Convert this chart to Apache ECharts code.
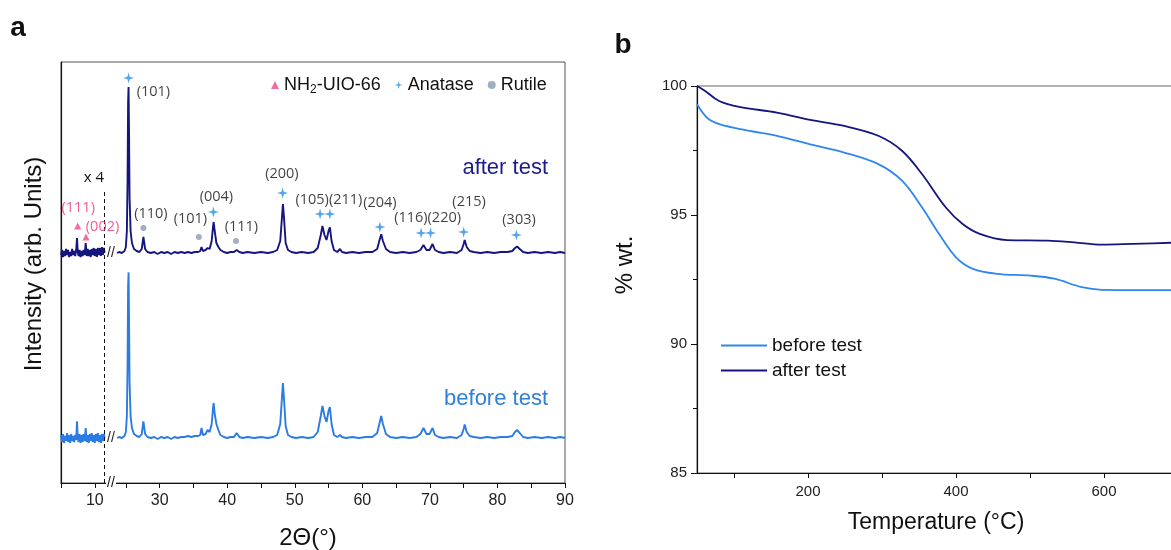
<!DOCTYPE html>
<html><head><meta charset="utf-8">
<script src="https://cdn.jsdelivr.net/npm/echarts@6/dist/echarts.min.js"></script>
<style>html,body{margin:0;padding:0;background:#fff}#c{width:1171px;height:550px}</style>
</head><body><div id="c"></div>
<script>
// ================= DATA =================
// Panel a : XRD, 2θ (deg) vs intensity above own baseline (arb.)
const BREAK_LO = 11.5, BREAK_HI = 23.7, BREAK_SHIFT = 10.4;
const xrdTickValues = [5, 10, 25, 30, 35, 40, 45, 50, 55, 60, 65, 70, 75, 80, 85, 90];
const xrdLabelValues = [10, 30, 40, 50, 60, 70, 80, 90];
const AFTER_OFFSET = 230, BEFORE_OFFSET = 45;

const afterLow = [[5.0,-2],[5.15,3],[5.3,-4],[5.45,2],[5.6,-3],[5.75,4],[5.9,-2],[6.05,3],[6.2,-4],[6.35,1],[6.5,-3],[6.65,4],[6.8,-2],[6.95,2],[7.1,-3],[7.25,3],[7.37,15],[7.48,1],[7.6,-3],[7.75,3],[7.9,-4],[8.05,2],[8.2,-3],[8.35,3],[8.5,-2],[8.66,10],[8.8,-3],[8.95,4],[9.1,-3],[9.25,3],[9.4,-4],[9.55,4],[9.7,-2],[9.85,5],[10.0,-3],[10.15,4],[10.3,-4],[10.45,5],[10.6,-2],[10.75,5],[10.9,-3],[11.05,6],[11.2,-2],[11.35,5],[11.45,0]];
const afterHigh = [[23.7,0],[24.0,1],[24.4,0],[24.8,2],[25.0,6],[25.15,22],[25.25,70],[25.33,150],[25.4,166],[25.47,120],[25.55,55],[25.7,22],[25.9,10],[26.2,4],[26.6,2],[27.0,1],[27.35,4],[27.6,16],[27.85,4],[28.2,1],[28.7,0],[29.2,1],[29.7,-1],[30.2,1],[30.7,0],[31.2,1],[31.7,-1],[32.2,1],[32.7,0],[33.2,1],[33.7,0],[34.2,1],[34.7,0],[35.2,1],[35.7,1],[36.0,2],[36.2,6],[36.4,2],[36.8,3],[37.1,5],[37.4,4],[37.7,12],[37.9,26],[38.0,31],[38.15,22],[38.4,10],[38.7,6],[39.0,3],[39.5,1],[40.0,0],[40.5,1],[41.0,1],[41.4,3],[41.8,1],[42.3,0],[43,1],[44,0],[45,1],[46,0],[46.8,1],[47.4,3],[47.85,12],[48.1,35],[48.25,49],[48.4,36],[48.65,10],[49.0,3],[49.5,1],[50.2,0],[51,1],[52,0],[52.8,1],[53.4,5],[53.85,18],[54.1,27],[54.4,18],[54.7,13],[55.0,22],[55.2,25.7],[55.45,12],[55.8,3],[56.3,1],[56.7,4],[57.0,1],[57.6,0],[58.5,1],[59.5,0],[60.5,1],[61.5,1],[62.2,4],[62.55,13],[62.8,18.7],[63.05,12],[63.5,4],[64.1,1],[65,0],[66,1],[67,0],[68,1],[68.6,3],[69.05,8],[69.5,3],[69.95,3],[70.4,9],[70.75,3],[71.3,1],[72,0],[73,1],[74,0],[74.7,3],[75.0,9],[75.15,13],[75.45,6],[75.9,2],[76.5,1],[77.5,0],[78.5,1],[79.5,0],[80.5,1],[81.5,1],[82.2,2],[82.6,5],[82.9,6.5],[83.3,4],[83.8,1],[84.5,0],[85.5,1],[86.5,0],[87.5,1],[88.5,0],[89.3,1],[90,0]];

const beforeLow = [[5.0,3],[5.15,-4],[5.3,4],[5.45,-5],[5.6,2],[5.75,-3],[5.9,5],[6.05,-4],[6.2,3],[6.35,-5],[6.5,4],[6.65,-3],[6.8,2],[6.95,-4],[7.1,3],[7.25,-2],[7.37,16.6],[7.48,0],[7.6,-4],[7.75,4],[7.9,-5],[8.05,3],[8.2,-4],[8.35,4],[8.5,-3],[8.66,10],[8.8,-4],[8.95,3],[9.1,-5],[9.25,4],[9.4,-3],[9.55,5],[9.7,-4],[9.85,3],[10.0,-5],[10.15,4],[10.3,-3],[10.45,5],[10.6,-4],[10.75,3],[10.9,-5],[11.05,4],[11.2,-3],[11.35,4],[11.45,0]];
const beforeHigh = [[23.7,0],[24.0,1],[24.4,0],[24.8,2],[25.0,6],[25.15,22],[25.25,70],[25.33,150],[25.4,165.6],[25.47,120],[25.55,55],[25.7,22],[25.9,10],[26.2,4],[26.6,2],[27.0,1],[27.35,4],[27.6,16.6],[27.85,4],[28.2,1],[28.7,0],[29.2,1],[29.7,-1],[30.2,1],[30.7,0],[31.2,1],[31.7,-1],[32.2,1],[32.7,0],[33.2,1],[33.7,1],[34.2,2],[34.7,1],[35.2,2],[35.7,2],[36.0,3],[36.2,10],[36.4,3],[36.8,4],[37.1,8],[37.4,6],[37.7,14],[37.9,30],[38.0,35],[38.15,24],[38.4,14],[38.7,8],[39.0,3],[39.5,1],[40.0,0],[40.5,1],[41.0,1],[41.4,5],[41.8,1],[42.3,0],[43,1],[44,0],[45,1],[46,0],[46.8,1],[47.4,3],[47.85,14],[48.1,40],[48.25,55],[48.4,40],[48.65,12],[49.0,3],[49.5,1],[50.2,0],[51,1],[52,0],[52.8,1],[53.4,6],[53.85,22],[54.1,32],[54.4,22],[54.7,16],[55.0,27],[55.2,31],[55.45,14],[55.8,3],[56.3,1],[56.7,3],[57.0,1],[57.6,0],[58.5,1],[59.5,0],[60.5,1],[61.5,1],[62.2,5],[62.55,15],[62.8,22],[63.05,14],[63.5,4],[64.1,1],[65,0],[66,1],[67,0],[68,1],[68.6,4],[69.05,10],[69.5,4],[69.95,4],[70.4,10],[70.75,3],[71.3,1],[72,0],[73,1],[74,0],[74.7,3],[75.0,9],[75.15,13.5],[75.45,6],[75.9,2],[76.5,1],[77.5,0],[78.5,1],[79.5,0],[80.5,1],[81.5,1],[82.2,2],[82.6,6],[82.9,8],[83.3,5],[83.8,1],[84.5,0],[85.5,1],[86.5,0],[87.5,1],[88.5,0],[89.3,1],[90,0]];

// phase markers [2θ, plotted height]
const uioMarks = [[7.47,257],[8.70,246]];
const anataseMarks = [[25.4,405],[37.95,271],[48.2,290],[53.75,269],[55.2,269],[62.6,256],[68.7,250],[70.1,250],[75.0,251],[82.8,248]];
const rutileMarks = [[27.6,255],[35.8,246],[41.3,242]];
// peak index labels [text, 2θ, height]
const hklLabels = [['(101)',29.07,391],['(110)',28.7,269],['(101)',34.55,264],['(004)',38.4,286],['(111)',42.1,256],['(200)',48.1,309],['(105)(211)',55.05,283],['(204)',62.6,280],['(116)(220)',69.66,265],['(215)',75.8,281],['(303)',83.2,263]];
const uioLabels = [['(111)',7.55,275],['(002)',11.15,256]];

// Panel b : TGA, temperature (°C) vs % wt.
const tgaBefore = [[50,99.29],[66,98.71],[89,98.45],[121,98.26],[158,98.07],[203,97.74],[249,97.42],[295,96.97],[327,96.33],[354,95.30],[377,94.27],[400,93.36],[423,92.91],[455,92.72],[501,92.65],[533,92.53],[570,92.20],[597,92.10],[650,92.09],[710,92.09]];
const tgaAfter = [[50,100],[61,99.81],[80,99.42],[107,99.19],[158,98.97],[203,98.69],[249,98.45],[295,98.07],[327,97.49],[354,96.59],[386,95.30],[409,94.65],[432,94.27],[469,94.03],[524,94.01],[560,93.94],[597,93.85],[638,93.88],[710,93.94]];
const tgaTicks = [100, 200, 300, 400, 500, 600, 700];
const tgaLabels = [200, 400, 600, 800];

// ================= CHART =================
const FONT = 'Liberation Sans, Arial, sans-serif';
const C_AFTER = '#15157f', C_BEFORE = '#2b7be4';
const STAR = 'path://M0,-6 L1.3,-1.3 L6,0 L1.3,1.3 L0,6 L-1.3,1.3 L-6,0 L-1.3,-1.3 Z';
const tx = th => th <= 12 ? th : th - BREAK_SHIFT;
const buildTrace = (low, high, off) => low.map(p => [tx(p[0]), p[1] + off])
  .concat([[12.4, '-']])
  .concat(high.map(p => [tx(p[0]), p[1] + off]));
const markData = arr => arr.map(p => [tx(p[0]), p[1]]);
const labelData = arr => arr.map(p => ({ name: p[0], value: [tx(p[1]), p[2]] }));

const chart = echarts.init(document.getElementById('c'));
const option = {
  animation: false,
  textStyle: { fontFamily: FONT },
  grid: [
    { left: 61, top: 62, width: 504, height: 421, show: true, borderColor: '#555', borderWidth: 1, outerBoundsMode: 'none', containLabel: false },
    { left: 697, top: 86, width: 555, height: 387, show: true, borderColor: '#666', borderWidth: 1, outerBoundsMode: 'none', containLabel: false }
  ],
  xAxis: [
    { type: 'value', gridIndex: 0, min: 5, max: tx(90),
      axisLine: { lineStyle: { color: '#111', width: 1.2 } },
      axisTick: { customValues: xrdTickValues.map(tx), length: 5, lineStyle: { color: '#111' } },
      axisLabel: { customValues: xrdLabelValues.map(tx), fontSize: 16, color: '#222', margin: 10,
        formatter: v => String(Math.round(v > 12 ? v + BREAK_SHIFT : v)) },
      splitLine: { show: false } },
    { type: 'value', gridIndex: 1, min: 50, max: 800,
      axisLine: { lineStyle: { color: '#111', width: 1.2 } },
      axisTick: { customValues: tgaTicks, length: 5, inside: false, lineStyle: { color: '#111' } },
      axisLabel: { customValues: tgaLabels, fontSize: 15, color: '#222', margin: 11 },
      splitLine: { show: false } }
  ],
  yAxis: [
    { type: 'value', gridIndex: 0, min: 0, max: 421,
      axisLine: { show: true, lineStyle: { color: '#111', width: 1.2 } },
      axisTick: { show: false }, axisLabel: { show: false }, splitLine: { show: false } },
    { type: 'value', gridIndex: 1, min: 85, max: 100, interval: 5,
      axisLine: { show: true, lineStyle: { color: '#111', width: 1.2 } },
      axisTick: { show: true, length: 6, lineStyle: { color: '#111' } },
      minorTick: { show: true, splitNumber: 2, length: 4, lineStyle: { color: '#111' } },
      axisLabel: { fontSize: 15, color: '#222', margin: 10 },
      splitLine: { show: false } }
  ],
  legend: [
    { data: [{ name: 'NH2-UIO-66', icon: 'triangle' }, { name: 'Anatase', icon: STAR }, { name: 'Rutile', icon: 'circle' }],
      left: 266, top: 71, itemGap: 14, itemWidth: 8, itemHeight: 8, selectedMode: false,
      formatter: n => n === 'NH2-UIO-66' ? '{n|NH}{s|2}{n|-UIO-66}' : '{n|' + n + '}',
      textStyle: { rich: { n: { fontSize: 18, color: '#111', lineHeight: 21, fontFamily: FONT },
                           s: { fontSize: 12, color: '#111', lineHeight: 11, verticalAlign: 'bottom', fontFamily: FONT } } } },
    { data: ['before test', 'after test'], orient: 'vertical', left: 716, top: 331, itemGap: 6,
      icon: 'rect', itemWidth: 46, itemHeight: 2, selectedMode: false,
      textStyle: { fontSize: 19, color: '#111', fontFamily: FONT } }
  ],
  series: [
    { name: 'XRD after', type: 'line', xAxisIndex: 0, yAxisIndex: 0, showSymbol: false, connectNulls: false,
      data: buildTrace(afterLow, afterHigh, AFTER_OFFSET), lineStyle: { color: C_AFTER, width: 1.9 }, z: 3 },
    { name: 'XRD before', type: 'line', xAxisIndex: 0, yAxisIndex: 0, showSymbol: false, connectNulls: false,
      data: buildTrace(beforeLow, beforeHigh, BEFORE_OFFSET), lineStyle: { color: C_BEFORE, width: 1.9 }, z: 3,
      markLine: { silent: true, symbol: 'none', label: { show: false },
        lineStyle: { color: '#111', type: [4, 3], width: 1 },
        data: [[{ coord: [BREAK_LO - 0.03, 0] }, { coord: [BREAK_LO - 0.03, 293] }]] } },
    { name: 'NH2-UIO-66', type: 'scatter', xAxisIndex: 0, yAxisIndex: 0, symbol: 'triangle', symbolSize: 7,
      itemStyle: { color: '#f0468a' }, data: markData(uioMarks), z: 4 },
    { name: 'Anatase', type: 'scatter', xAxisIndex: 0, yAxisIndex: 0, symbol: STAR, symbolSize: 11,
      itemStyle: { color: '#2b8fe3' }, data: markData(anataseMarks), z: 4 },
    { name: 'Rutile', type: 'scatter', xAxisIndex: 0, yAxisIndex: 0, symbol: 'circle', symbolSize: 6,
      itemStyle: { color: '#8c9ab0' }, data: markData(rutileMarks), z: 4 },
    { name: 'hkl', type: 'scatter', xAxisIndex: 0, yAxisIndex: 0, symbolSize: 1, silent: true,
      itemStyle: { color: 'rgba(0,0,0,0)' }, data: labelData(hklLabels), z: 5, labelLayout: { hideOverlap: false },
      label: { show: true, position: 'inside', formatter: '{b}', fontSize: 14.5, color: '#111', fontFamily: 'Open Sans, sans-serif' } },
    { name: 'hklUio', type: 'scatter', xAxisIndex: 0, yAxisIndex: 0, symbolSize: 1, silent: true,
      itemStyle: { color: 'rgba(0,0,0,0)' }, data: labelData(uioLabels), z: 5, labelLayout: { hideOverlap: false },
      label: { show: true, position: 'inside', formatter: '{b}', fontSize: 14.5, color: '#f0307a', fontFamily: 'Open Sans, sans-serif' } },
    { name: 'before test', type: 'line', xAxisIndex: 1, yAxisIndex: 1, showSymbol: false, smooth: 0.35,
      data: tgaBefore, lineStyle: { color: '#2f86ee', width: 1.8 }, itemStyle: { color: '#2f86ee' } },
    { name: 'after test', type: 'line', xAxisIndex: 1, yAxisIndex: 1, showSymbol: false, smooth: 0.35,
      data: tgaAfter, lineStyle: { color: C_AFTER, width: 1.8 }, itemStyle: { color: C_AFTER } }
  ]
};
chart.setOption(option);

// decorations positioned through the axes
const px = (x, y) => chart.convertToPixel({ xAxisIndex: 0, yAxisIndex: 0 }, [x, y]);
const gA = px(BREAK_LO, 0), gB = px(tx(BREAK_HI), 0), gMid = px(12.4, 0);
const tA = px(12.4, AFTER_OFFSET), tB = px(12.4, BEFORE_OFFSET);
const txt = (x, y, s, o) => Object.assign({ type: 'text', x, y, silent: true,
  style: Object.assign({ text: s, fontFamily: FONT, textAlign: 'center', textVerticalAlign: 'middle', fill: '#111' }, o || {}) });
chart.setOption({ graphic: [
  { type: 'rect', shape: { x: gA[0] + 1, y: gA[1] - 3, width: gB[0] - gA[0] - 2, height: 6 }, style: { fill: '#fff' }, z: 10, silent: true },
  Object.assign(txt(gMid[0], gMid[1], '//', { fontSize: 14 }), { z: 11 }),
  Object.assign(txt(tA[0], tA[1], '//', { fontSize: 14, fill: '#222' }), { z: 11 }),
  Object.assign(txt(tB[0], tB[1], '//', { fontSize: 14, fill: '#222' }), { z: 11 }),
  txt(18, 28, 'a', { fontSize: 28, fontWeight: 'bold' }),
  txt(623, 45, 'b', { fontSize: 28, fontWeight: 'bold' }),
  Object.assign(txt(34, 264, 'Intensity (arb. Units)', { fontSize: 24 }), { rotation: Math.PI / 2 }),
  txt(308, 538, '2Θ(°)', { fontSize: 24 }),
  txt(94, 178, 'x 4', { fontSize: 15, fontFamily: 'Open Sans, sans-serif' }),
  txt(548, 168, 'after test', { fontSize: 22, fill: '#1c1c8c', textAlign: 'right' }),
  txt(548, 399, 'before test', { fontSize: 22, fill: '#2f80d8', textAlign: 'right' }),
  Object.assign(txt(625, 265, '% wt.', { fontSize: 24 }), { rotation: Math.PI / 2 }),
  txt(936, 523, 'Temperature (°C)', { fontSize: 23 })
] });
</script></body></html>
